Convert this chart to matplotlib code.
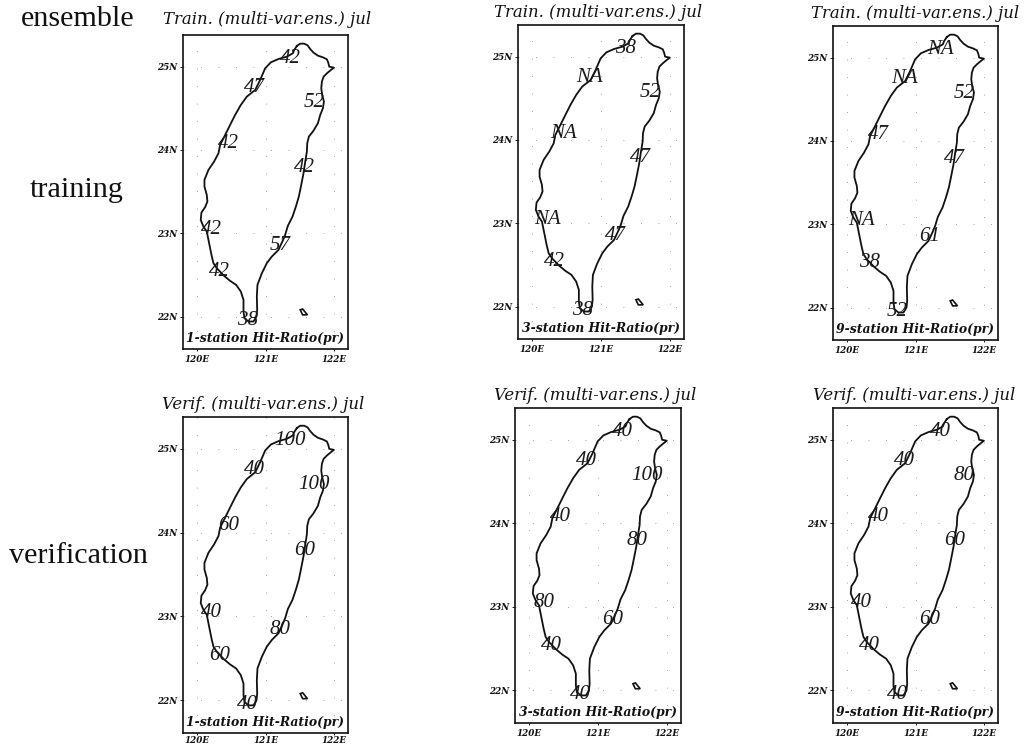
import numpy as np
import matplotlib
matplotlib.use("Agg")
import matplotlib.pyplot as plt

# ---- data -------------------------------------------------------------
coast_dlon = [1.456,1.505,1.563,1.612,1.650,1.699,1.762,1.835,1.893,1.913,1.927,1.995,1.951,1.893,1.845,1.820,1.811,1.825,1.850,1.835,1.796,1.762,1.699,1.631,1.607,1.602,1.578,1.553,1.515,1.485,1.442,1.393,1.325,1.286,1.252,1.189,1.092,1.019,.947,.883,.874,.879,.869,.825,.752,.694,.680,.680,.641,.573,.485,.398,.291,.243,.214,.180,.146,.097,.058,.068,.121,.155,.146,.112,.112,.170,.252,.316,.340,.413,.485,.558,.641,.728,.850,.922,.995,1.078,1.189,1.311,1.398,1.417,1.456]
coast_lat = [25.248,25.276,25.276,25.256,25.212,25.168,25.132,25.112,25.088,25.048,25.0,24.988,24.96,24.92,24.88,24.82,24.74,24.66,24.58,24.50,24.42,24.32,24.232,24.16,24.08,23.98,23.86,23.72,23.56,23.44,23.32,23.20,23.088,22.98,22.912,22.80,22.72,22.64,22.52,22.38,22.24,22.08,22.0,21.94,21.94,21.98,22.06,22.20,22.30,22.38,22.428,22.488,22.58,22.64,22.74,22.88,23.02,23.08,23.16,23.248,23.312,23.38,23.46,23.56,23.64,23.76,23.86,23.96,24.06,24.18,24.30,24.42,24.54,24.64,24.72,24.84,24.98,25.052,25.092,25.12,25.16,25.20,25.248]
coast_lon = [120 + d for d in coast_dlon]
island_lon = [121.505,121.54,121.61,121.54,121.505]
island_lat = [22.08,22.09,22.02,22.02,22.08]

station_lon = [121.36,120.84,121.71,120.46,121.57,120.22,121.21,120.33,120.74]
station_lat = [25.10,24.75,24.57,24.08,23.79,23.05,22.85,22.54,21.95]

train_1 = ["42","47","52","42","42","42","57","42","38"]
train_3 = ["38","NA","52","NA","47","NA","47","42","38"]
train_9 = ["NA","NA","52","47","47","NA","61","38","52"]
verif_1 = ["100","40","100","60","60","40","80","60","40"]
verif_3 = ["40","40","100","40","80","80","60","40","40"]
verif_9 = ["40","40","80","40","60","40","60","40","40"]

train_title = "Train. (multi-var.ens.) jul"
verif_title = "Verif. (multi-var.ens.) jul"
captions = ["1-station Hit-Ratio(pr)", "3-station Hit-Ratio(pr)", "9-station Hit-Ratio(pr)"]
lon_ticks = [120, 121, 122]
lat_ticks = [22, 23, 24, 25]
lon_labels = ["120E", "121E", "122E"]
lat_labels = ["22N", "23N", "24N", "25N"]
row_labels = ["ensemble", "training", "verification"]

# ---- layout -----------------------------------------------------------
W, H = 1024, 744
fig = plt.figure(figsize=(W/100, H/100), dpi=100, facecolor="white")

def fx(p): return p / W
def fy(p): return 1 - p / H

panels = [
    (183, 35, 348, 349, train_1, train_title, captions[0], 163, 24),
    (518, 25, 684, 339, train_3, train_title, captions[1], 494, 17),
    (833, 26, 998, 340, train_9, train_title, captions[2], 811, 18),
    (183, 417, 348, 733, verif_1, verif_title, captions[0], 162, 409),
    (515, 408, 681, 723, verif_3, verif_title, captions[1], 494, 400),
    (833, 408, 998, 723, verif_9, verif_title, captions[2], 813, 400),
]

SERIF = "DejaVu Serif"
for x0, y0, x1, y1, vals, title, cap, tx, ty in panels:
    ax = fig.add_axes([fx(x0), fy(y1), (x1-x0)/W, (y1-y0)/H])
    ax.set_xlim(119.8, 122.2)
    ax.set_ylim(21.61, 25.38)
    ax.plot(coast_lon, coast_lat, color="#111111", lw=1.3, solid_joinstyle="round")
    ax.fill(island_lon, island_lat, facecolor="white", edgecolor="#111111", lw=1.2)
    ax.set_xticks(lon_ticks, lon_labels)
    ax.set_yticks(lat_ticks, lat_labels)
    ax.tick_params(axis="y", length=2, width=0.7, pad=2, labelsize=6.3,
                   color="#222222", labelcolor="#111111")
    ax.tick_params(axis="x", length=1.5, width=0.7, pad=0.8 if y1 > 730 else 2.5,
                   labelsize=6.3, color="#222222", labelcolor="#111111")
    for lab in ax.get_xticklabels() + ax.get_yticklabels():
        lab.set_family(SERIF); lab.set_style("italic"); lab.set_weight("bold")
    ax.grid(True, color="#888888", lw=0.6, linestyle=(0, (1, 20)))
    ax.set_axisbelow(True)
    for s in ax.spines.values():
        s.set_linewidth(1.2); s.set_color("#111111")
    for lo, la, v in zip(station_lon, station_lat, vals):
        ax.text(lo, la, v, ha="center", va="center", fontsize=15,
                family="Liberation Serif", style="italic", color="#1a1a1a",
                clip_on=False)
    ax.text(0.5, 0.032, cap, transform=ax.transAxes, ha="center", va="center",
            fontsize=8.9, family=SERIF, style="italic", fontweight="bold",
            color="#111111")
    fig.text(fx(tx), fy(ty), title, ha="left", va="baseline", fontsize=11.9,
             family=SERIF, style="italic", color="#111111")

for lab, cx, by in zip(row_labels, [78, 77, 78], [26, 197, 563]):
    fig.text(fx(cx), fy(by), lab, ha="center", va="baseline", fontsize=21.7,
             family="Liberation Serif", color="#111111")

fig.savefig("out.png", dpi=100, facecolor="white")
